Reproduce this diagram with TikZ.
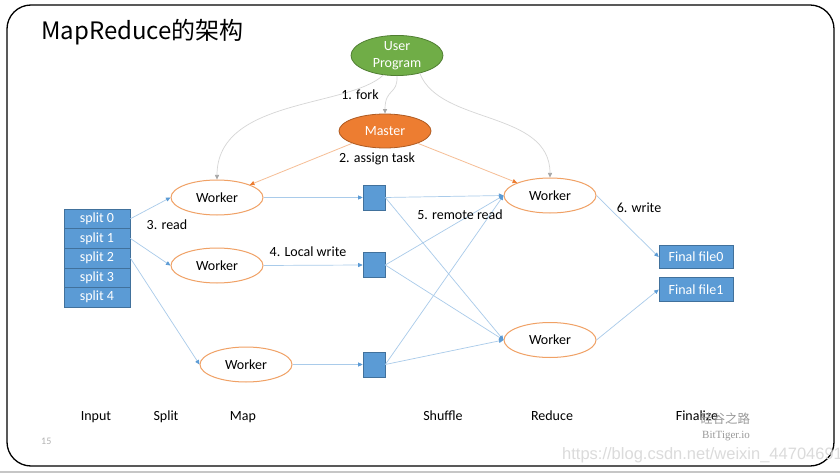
\documentclass[tikz,border=0pt]{standalone}
\usepackage{fontspec}
\setmainfont{Carlito}
\newfontfamily\cjk{Noto Sans CJK SC}
\newfontfamily\wmserif{Liberation Serif}
\newfontfamily\wmsans{Liberation Sans}
\usetikzlibrary{shapes.geometric,arrows.meta}
\definecolor{upfill}{HTML}{70AD47}
\definecolor{updraw}{HTML}{507E32}
\definecolor{msfill}{HTML}{ED7D31}
\definecolor{msdraw}{HTML}{AE5A21}
\definecolor{wkdraw}{HTML}{F0A165}
\definecolor{bxfill}{HTML}{5B9BD5}
\definecolor{bxdraw}{HTML}{41719C}
\definecolor{bline}{HTML}{A9CBEA}
\definecolor{barrow}{HTML}{5B9BD5}
\definecolor{gline}{HTML}{D6D6D6}
\definecolor{garrow}{HTML}{A6A6A6}
\definecolor{oline}{HTML}{F6BE96}
\tikzset{
  txt/.style={font=\fontsize{14}{17}\selectfont, inner sep=0pt},
  worker/.style={ellipse, draw=wkdraw, line width=1pt, fill=white, minimum width=92pt, minimum height=35pt, inner sep=0pt, txt},
  splitbox/.style={rectangle, draw=bxdraw, line width=0.6pt, fill=bxfill, text=white, minimum width=66pt, minimum height=19.6pt, inner sep=0pt, txt},
  sqbox/.style={rectangle, draw=bxdraw, line width=0.6pt, fill=bxfill, minimum width=22pt, minimum height=25pt, inner sep=0pt},
  filebox/.style={rectangle, draw=bxdraw, line width=0.6pt, fill=bxfill, text=white, minimum width=74pt, minimum height=23.5pt, inner sep=0pt, txt},
  bconn/.style={draw=bline, line width=0.7pt, -{Triangle[length=4.5pt,width=4pt,color=barrow,fill=barrow]}},
  gconn/.style={draw=gline, line width=0.7pt, -{Triangle[length=4.5pt,width=4pt,color=garrow,fill=garrow]}},
  oconn/.style={draw=oline, line width=0.8pt, -{Triangle[length=4.5pt,width=4pt,color=msfill,fill=msfill]}},
  steplabel/.style={txt, anchor=base},
}
\begin{document}
\begin{tikzpicture}[x=1pt,y=-1pt]
\useasboundingbox (0,0) rectangle (840,473);
\fill[white] (0,0) rectangle (840,473);
% frame
\draw[line width=1.3pt, rounded corners=24pt] (7,5) rectangle (834,466);
\fill[gray!45] (0,470.5) rectangle (840,473);
% title
\node[anchor=base west, inner sep=0pt, font=\cjk\fontsize{24}{28}\selectfont] (title) at (41,40) {MapReduce的架构};
% main nodes
\node[ellipse, draw=updraw, line width=0.8pt, fill=upfill, text=white, minimum width=92pt, minimum height=35pt, inner sep=0pt, align=center, txt] (up) at (397,55.5) {User\\Program};
\node[ellipse, draw=msdraw, line width=0.8pt, fill=msfill, text=white, minimum width=92pt, minimum height=34pt, inner sep=0pt, txt] (ms) at (385,131) {Master};
\node[worker] (w1) at (217,197.5) {Worker};
\node[worker] (w2) at (217,265.5) {Worker};
\node[worker] (w3) at (246,364.5) {Worker};
\node[worker] (r1) at (550,195.5) {Worker};
\node[worker] (r2) at (550,340) {Worker};
% splits
\node[splitbox] (s0) at (97,218.8) {split 0};
\node[splitbox] (s1) at (97,238.4) {split 1};
\node[splitbox] (s2) at (97,258.0) {split 2};
\node[splitbox] (s3) at (97,277.6) {split 3};
\node[splitbox] (s4) at (97,297.2) {split 4};
% intermediate
\node[sqbox] (q1) at (374,197.5) {};
\node[sqbox] (q2) at (374,265) {};
\node[sqbox] (q3) at (374,364.5) {};
% finals
\node[filebox] (f0) at (696,257) {Final file0};
\node[filebox] (f1) at (696,289.5) {Final file1};
% gray fork curves
\draw[gconn] (up.-125) .. controls (348,108) and (217,98) .. (w1.north);
\draw[gconn] (up.south) .. controls (398,95) and (385,88) .. (ms.north);
\draw[gconn] (up.-38) .. controls (440,125) and (550,110) .. (r1.north);
% assign
\draw[oconn] (ms.south west) -- (w1.north east);
\draw[oconn] (ms.south east) -- (r1.north west);
% read
\draw[bconn] (s0.east) -- (w1.west);
\draw[bconn] (s1.east) -- (w2.west);
\draw[bconn] (s2.east) -- (w3.west);
% local write
\draw[bconn] (w1.east) -- (q1.west);
\draw[bconn] (w2.east) -- (q2.west);
\draw[bconn] (w3.east) -- (q3.west);
% shuffle
\draw[bconn] (q1.east) -- (r1.west);
\draw[bconn] (q1.east) -- (r2.west);
\draw[bconn] (q2.east) -- (r1.west);
\draw[bconn] (q2.east) -- (r2.west);
\draw[bconn] (q3.east) -- (r1.west);
\draw[bconn] (q3.east) -- (r2.west);
% write
\draw[bconn] (r1.east) -- (f0.west);
\draw[bconn] (r2.east) -- (f1.west);
% step labels
\node[steplabel] (l1) at (360,100) {1. fork};
\node[steplabel] (l2) at (377,163) {2. assign task};
\node[steplabel] (l3) at (167,229) {3. read};
\node[steplabel] (l4) at (308,256) {4. Local write};
\node[steplabel] (l5) at (460,219) {5. remote read};
\node[steplabel] (l6) at (639,212) {6. write};
% phase labels
\node[steplabel] (p1) at (96,420) {Input};
\node[steplabel] (p2) at (166,420) {Split};
\node[steplabel] (p3) at (243,420) {Map};
\node[steplabel] (p4) at (443,420) {Shuffle};
\node[steplabel] (p5) at (552,420) {Reduce};
\node[steplabel] (p6) at (697,420) {Finalize};
% page number (partly hidden)
\begin{scope}
\clip (35,437) rectangle (70,450);
\node[anchor=base west, inner sep=0pt, text=gray!60, font=\fontsize{10}{12}\selectfont] (pg) at (41,444) {15};
\end{scope}
% watermarks
\node[anchor=base, inner sep=0pt, text=black!40, font=\cjk\fontsize{12.5}{14}\selectfont] (wm1) at (725,423) {硅谷之路};
\node[anchor=base, inner sep=0pt, text=black!40, font=\wmserif\fontsize{11}{13}\selectfont] (wm2) at (726,438) {BitTiger.io};
\node[anchor=base west, inner sep=0pt, text=black!14, font=\wmsans\fontsize{16.5}{19}\selectfont] (wm3) at (562,459) {https://blog.csdn.net/weixin\_44704691};
\end{tikzpicture}
\end{document}
